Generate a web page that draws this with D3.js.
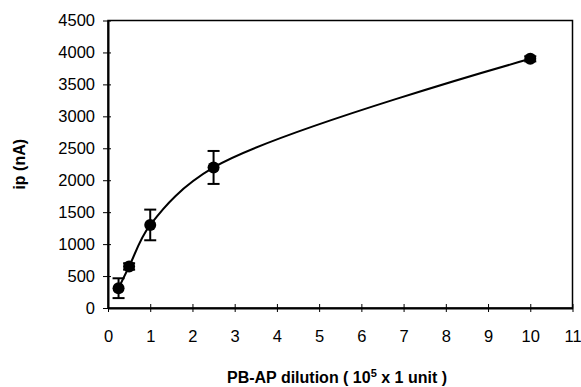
<!DOCTYPE html>
<html>
<head>
<meta charset="utf-8">
<script src="https://cdn.jsdelivr.net/npm/d3@7"></script>
<style>
  body { margin: 0; background: #fff; }
  svg { display: block; font-family: Arial, "Liberation Sans", sans-serif; }
</style>
</head>
<body>
<svg id="chart" width="581" height="387"></svg>
<script>
// data
const dilution = [0.25, 0.5, 1, 2.5, 10];
const current = [310, 650, 1300, 2200, 3900];
const errors = [155, 50, 240, 258, 40];
const xTicks = d3.range(0, 12);
const yTicks = d3.range(0, 4501, 500);

const margin = {top: 20.5, right: 8.5, bottom: 79, left: 108};
const width = 581, height = 387;

const svg = d3.select("#chart");

const x = d3.scaleLinear().domain([0, 11]).range([margin.left, width - margin.right]);
const y = d3.scaleLinear().domain([0, 4500]).range([height - margin.bottom, margin.top]);

// frame (top and right)
svg.append("rect")
    .attr("x", x(0))
    .attr("y", y(4500))
    .attr("width", x(11) - x(0))
    .attr("height", y(0) - y(4500))
    .attr("fill", "none")
    .attr("stroke", "#000")
    .attr("stroke-width", 1.5);

// axes
const xAxis = svg.append("g")
    .attr("transform", `translate(0,${y(0)})`)
    .call(d3.axisBottom(x).tickValues(xTicks).tickSize(0).tickPadding(22).tickFormat(d3.format("d")));
xAxis.select(".domain").attr("stroke-width", 2);
xAxis.selectAll(".tick text").attr("font-size", 16.5).attr("fill", "#000");
xAxis.selectAll(".tick").append("line")
    .attr("y1", -4).attr("y2", 4)
    .attr("stroke", "#000").attr("stroke-width", 1);

const yAxis = svg.append("g")
    .attr("transform", `translate(${x(0)},0)`)
    .call(d3.axisLeft(y).tickValues(yTicks).tickSize(0).tickPadding(13).tickFormat(d3.format("d")));
yAxis.select(".domain").attr("stroke-width", 2);
yAxis.selectAll(".tick text").attr("font-size", 16.5).attr("fill", "#000");
yAxis.selectAll(".tick").append("line")
    .attr("x1", -5).attr("x2", 3)
    .attr("stroke", "#000").attr("stroke-width", 1);

const pts = dilution.map((d, i) => ({x: d, y: current[i], e: errors[i]}));

// smoothed curve
const line = d3.line()
    .x(d => x(d.x))
    .y(d => y(d.y))
    .curve(d3.curveCatmullRom.alpha(0.5));

svg.append("path")
    .datum(pts)
    .attr("d", line)
    .attr("fill", "none")
    .attr("stroke", "#000")
    .attr("stroke-width", 2);

// error bars
const eb = svg.append("g").attr("stroke", "#000").attr("stroke-width", 2);
eb.selectAll("line.v")
  .data(pts)
  .join("line")
    .attr("class", "v")
    .attr("x1", d => x(d.x)).attr("x2", d => x(d.x))
    .attr("y1", d => y(d.y + d.e)).attr("y2", d => y(d.y - d.e));
eb.selectAll("line.top")
  .data(pts)
  .join("line")
    .attr("class", "top")
    .attr("x1", d => x(d.x) - 6).attr("x2", d => x(d.x) + 6)
    .attr("y1", d => y(d.y + d.e)).attr("y2", d => y(d.y + d.e));
eb.selectAll("line.bot")
  .data(pts)
  .join("line")
    .attr("class", "bot")
    .attr("x1", d => x(d.x) - 6).attr("x2", d => x(d.x) + 6)
    .attr("y1", d => y(d.y - d.e)).attr("y2", d => y(d.y - d.e));

// markers
svg.append("g")
  .selectAll("circle")
  .data(pts)
  .join("circle")
    .attr("cx", d => x(d.x))
    .attr("cy", d => y(d.y))
    .attr("r", 6)
    .attr("fill", "#000");

// axis titles
svg.append("text")
    .attr("transform", `translate(25,${(y(0) + y(4500)) / 2}) rotate(-90)`)
    .attr("text-anchor", "middle")
    .attr("font-size", 16)
    .attr("font-weight", "bold")
    .text("ip (nA)");

const xt = svg.append("text")
    .attr("x", 337)
    .attr("y", 383)
    .attr("text-anchor", "middle")
    .attr("font-size", 16)
    .attr("font-weight", "bold");
xt.append("tspan").text("PB-AP dilution ( 10");
xt.append("tspan").attr("dy", -6).attr("font-size", 11).text("5");
xt.append("tspan").attr("dy", 6).text(" x 1 unit )");
</script>
</body>
</html>
